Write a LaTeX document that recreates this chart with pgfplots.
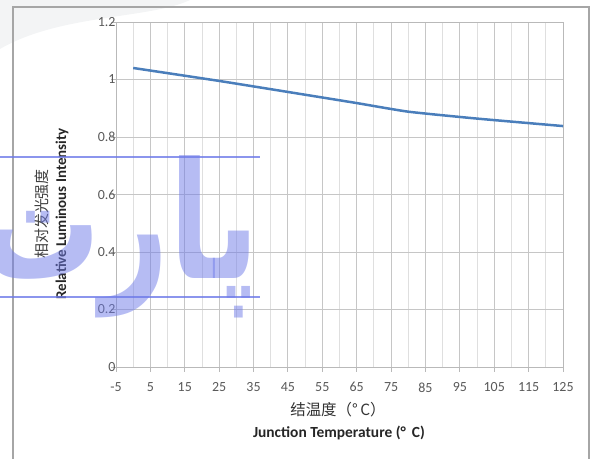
\documentclass[border=0pt]{standalone}
\usepackage{pgfplots}
\pgfplotsset{compat=1.18}
\usepackage{fontspec}
\setmainfont{Carlito}
\newfontfamily\cjk{Noto Sans CJK SC}
\newfontfamily\arabicfont[Script=Arabic]{DejaVu Sans}
\TeXXeTstate=1
\definecolor{lineblue}{HTML}{4A7EBB}
\definecolor{wmblue}{RGB}{110,122,232}
\definecolor{labgray}{HTML}{595959}
\begin{document}
\begin{tikzpicture}[x=1bp,y=1bp]
\useasboundingbox (0,0) rectangle (595,459);
\clip (0,0) rectangle (595,459);
% faint swoosh top left
\fill[cyan!8!gray!10] (0,459) -- (190,459) .. controls (150,440) and (60,445) .. (0,410) -- cycle;
% frame
\draw[gray!70, line width=1.3bp] (13,0) -- (13,452) -- (589,452) -- (589,0);

\begin{axis}[
   at={(116bp,92bp)}, anchor=south west,
   width=447bp, height=345bp, scale only axis,
   xmin=-5, xmax=125,
   ymin=0, ymax=1.2,
   xtick={-5,5,...,125},
   minor xtick={0,10,...,120},
   ytick={0,0.2,0.4,0.6,0.8,1,1.2},
   yticklabels={0,0.2,0.4,0.6,0.8,1,1.2},
   grid=both,
   major grid style={gray!45, line width=0.9bp},
   minor grid style={gray!25, line width=0.9bp},
   axis line style={gray!55, line width=0.9bp},
   tick style={gray!55, line width=0.9bp},
   tick align=outside, tick pos=left,
   major tick length=5bp, minor tick length=0pt,
   /pgf/number format/assume math mode=true,
   ticklabel style={font=\fontsize{14}{15}\selectfont, text=labgray},
   xticklabel style={yshift=-7bp},
   yticklabel style={xshift=8bp},
   clip=false
]
\addplot[lineblue, line width=2.5bp, smooth, tension=0.3] coordinates {
   (0,   1.040)
   (25,  0.995)
   (50,  0.947)
   (65,  0.918)
   (80,  0.888)
   (100, 0.864)
   (125, 0.838)
};
\end{axis}

% axis titles
\node[text=black!80, font=\cjk\fontsize{15.5}{16}\selectfont] at (338,49) {结温度（°\,C）};
\node[text=black!85, font=\bfseries\fontsize{15.5}{16}\selectfont] at (339,26) {Junction Temperature (°\, C)};
\node[rotate=90, text=black!75, font=\cjk\fontsize{15}{16}\selectfont] at (42,245) {相对发光强度};
\node[rotate=90, text=black!85, font=\bfseries\fontsize{15}{16}\selectfont] at (62,245) {Relative Luminous Intensity};

% watermark
\draw[wmblue, opacity=0.8, line width=1.2bp] (0,302) -- (260,302);
\draw[wmblue, opacity=0.8, line width=1.2bp] (0,162) -- (260,162);
\node[text=wmblue, opacity=0.5, font=\arabicfont\bfseries\fontsize{130}{130}\selectfont, inner sep=0pt, xscale=0.92, yscale=1.25] at (120,222) {\beginR پارت\endR};
\end{tikzpicture}
\end{document}
